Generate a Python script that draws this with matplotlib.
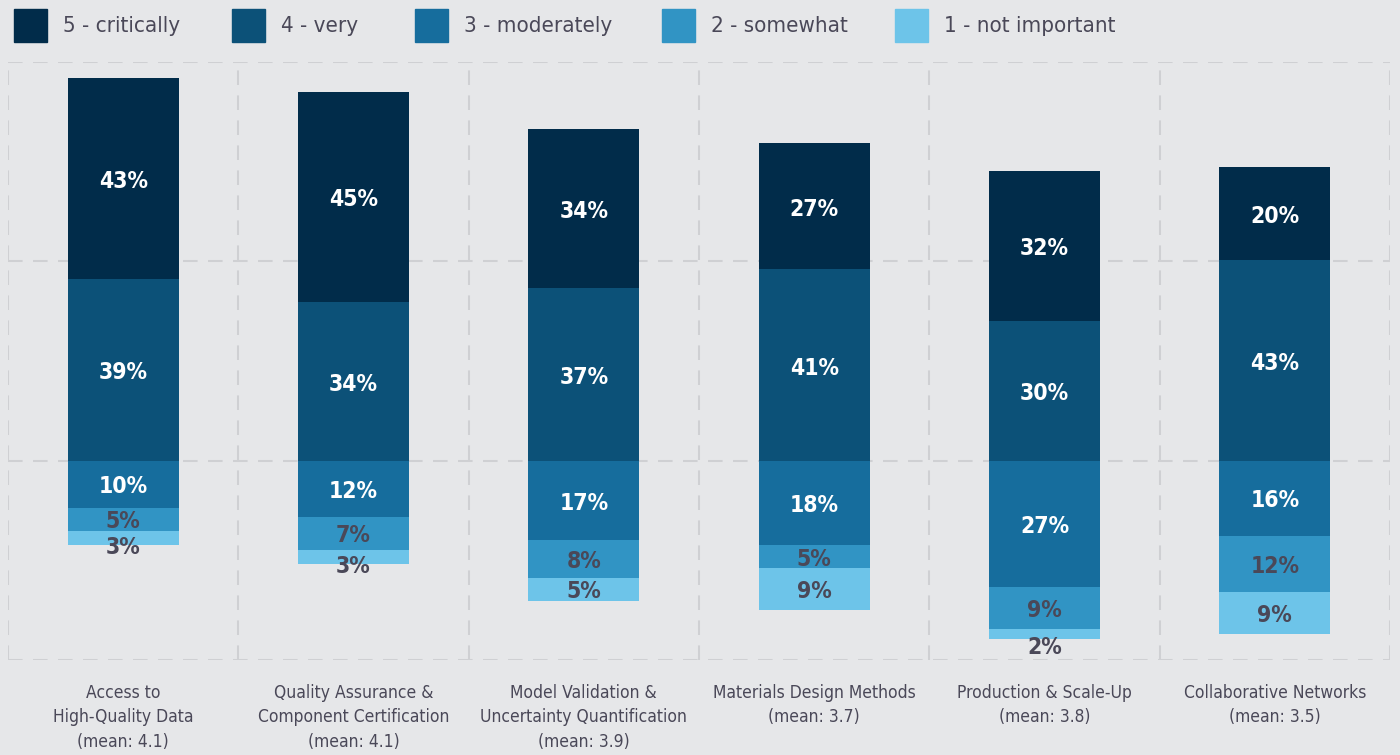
import matplotlib
matplotlib.use("Agg")
import matplotlib.pyplot as plt
from matplotlib.patches import Rectangle
import numpy as np

plt.rcParams['font.family'] = ['DejaVu Sans']
plt.rcParams['font.stretch'] = 'condensed'

categories = ["Access to\nHigh-Quality Data\n(mean: 4.1)",
              "Quality Assurance &\nComponent Certification\n(mean: 4.1)",
              "Model Validation &\nUncertainty Quantification\n(mean: 3.9)",
              "Materials Design Methods\n(mean: 3.7)",
              "Production & Scale-Up\n(mean: 3.8)",
              "Collaborative Networks\n(mean: 3.5)"]
levels = ["5 - critically", "4 - very", "3 - moderately", "2 - somewhat", "1 - not important"]
critically = [43, 45, 34, 27, 32, 20]
very = [39, 34, 37, 41, 30, 43]
moderately = [10, 12, 17, 18, 27, 16]
somewhat = [5, 7, 8, 5, 9, 12]
not_important = [3, 3, 5, 9, 2, 9]

colors = ["#012c4a", "#0c5178", "#166d9d", "#3194c4", "#6dc4e9"]
label_colors = ["white", "white", "white", "#4a4858", "#4a4858"]
bg = "#e6e7e9"
grid_c = "#cfd0d3"
text_c = "#4a4858"

fig = plt.figure(figsize=(14, 7.55), dpi=100, facecolor=bg)
ax = fig.add_axes([8/1400, 1-660/755, 1382/1400, 598/755])
ax.set_facecolor(bg)

n = len(categories)
x = np.arange(n)
width = 0.483

pos_series = [(very, 1), (critically, 0)]
neg_series = [(moderately, 2), (somewhat, 3), (not_important, 4)]

for i in range(n):
    bottom = 0
    for vals, k in pos_series:
        v = vals[i]
        ax.bar(x[i], v, width, bottom=bottom, color=colors[k], linewidth=0, zorder=2)
        ax.text(x[i], bottom + v/2 - 0.6, f"{v}%", ha='center', va='center',
                color=label_colors[k], fontsize=16.5, fontweight='bold', zorder=3)
        bottom += v
    bottom = 0
    for vals, k in neg_series:
        v = vals[i]
        ax.bar(x[i], -v, width, bottom=bottom, color=colors[k], linewidth=0, zorder=2)
        yc = bottom - v/2 - 0.5 - 0.8*max(0, 5 - v)
        ax.text(x[i], yc, f"{v}%", ha='center', va='center',
                color=label_colors[k], fontsize=16.5, fontweight='bold', zorder=3)
        bottom -= v

ax.set_xlim(-0.5, n - 0.5)
ylo, yhi = -42.6, 85.4
ax.set_ylim(ylo, yhi)

dash = dict(color=grid_c, linewidth=1.5, linestyle=(0, (7, 5)), zorder=1)
for b in np.arange(-0.5, n, 1.0):
    ax.axvline(b, **dash)
for f in [0, 1/3, 2/3, 1]:
    ax.axhline(ylo + f*(yhi - ylo), **dash)

for s in ax.spines.values():
    s.set_visible(False)
ax.set_yticks([])
ax.set_xticks(x)
ax.set_xticklabels(categories, fontsize=12.5, color=text_c, linespacing=1.48)
ax.tick_params(axis='x', length=0, pad=17)

leg_x = [14, 232, 415, 662, 895]
for lx, lab, c in zip(leg_x, levels, colors):
    fig.patches.append(Rectangle((lx/1400, 1-42/755), 33/1400, 33/755,
                                 transform=fig.transFigure, color=c, figure=fig))
    fig.text((lx + 49)/1400, 1-26/755, lab, fontsize=16, color=text_c, va='center', ha='left')

fig.savefig("out.png", dpi=100, facecolor=bg)
